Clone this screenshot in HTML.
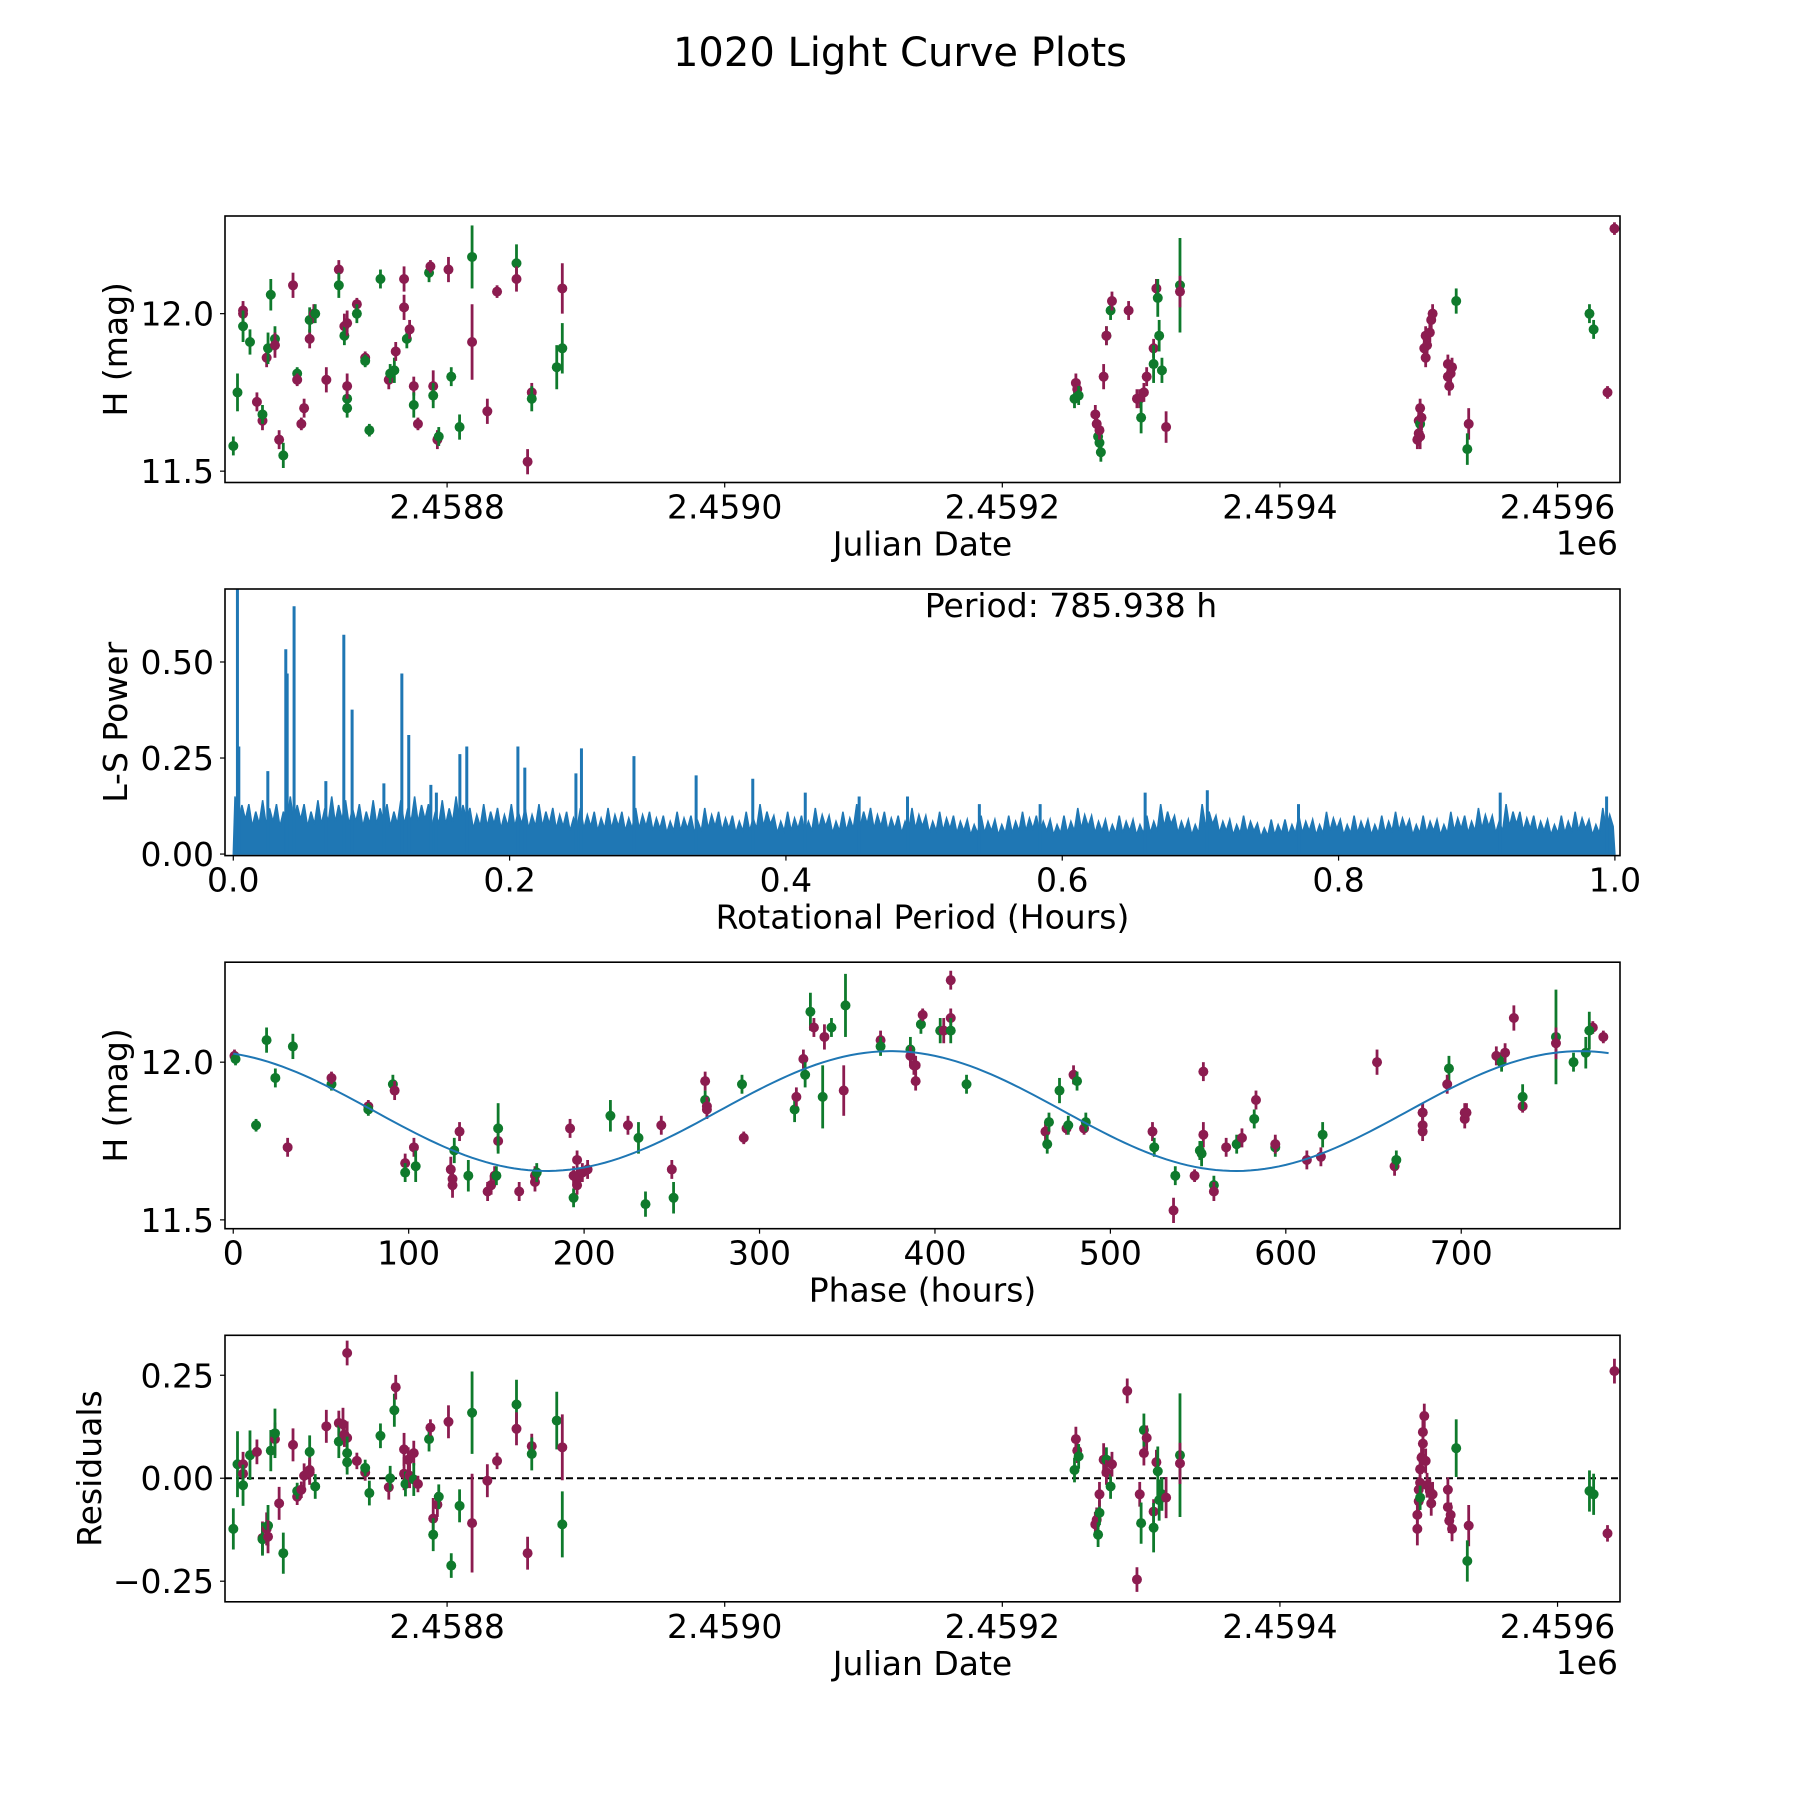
<!DOCTYPE html>
<html><head><meta charset="utf-8"><style>
html,body{margin:0;padding:0;background:#fff}
svg{display:block}
text{font-family:"DejaVu Sans","Liberation Sans",sans-serif;fill:#000}
</style></head><body>
<svg id="fig" width="1800" height="1800" viewBox="0 0 1800 1800" xmlns="http://www.w3.org/2000/svg">
<rect width="1800" height="1800" fill="#fff"/>
<text x="900" y="66" font-size="40" text-anchor="middle">1020 Light Curve Plots</text>
<g id="p1"></g>
<g id="p2"></g>
<g id="p3"></g>
<g id="p4"></g>
</svg>
<script>
const lcData = [
[2458646,11.58,0.03,'g'],[2458649,11.75,0.06,'g'],[2458653,12.01,0.03,'m'],[2458653,12.00,0.03,'m'],[2458653,11.96,0.05,'g'],[2458658,11.91,0.04,'g'],[2458663,11.72,0.03,'m'],[2458667,11.66,0.03,'m'],[2458667,11.68,0.03,'g'],[2458670,11.86,0.03,'m'],[2458671,11.89,0.05,'g'],[2458673,12.06,0.05,'g'],[2458676,11.92,0.04,'g'],[2458676,11.90,0.04,'m'],[2458679,11.60,0.03,'m'],[2458682,11.55,0.04,'g'],[2458689,12.09,0.04,'m'],[2458692,11.81,0.02,'g'],[2458692,11.79,0.02,'m'],[2458695,11.65,0.02,'m'],[2458697,11.70,0.03,'m'],[2458701,11.92,0.03,'m'],[2458701,11.98,0.04,'g'],[2458704,12.00,0.03,'m'],[2458705,12.00,0.03,'g'],[2458713,11.79,0.04,'m'],[2458722,12.14,0.03,'m'],[2458722,12.09,0.04,'g'],[2458726,11.96,0.04,'m'],[2458726,11.93,0.03,'g'],[2458728,11.97,0.04,'m'],[2458728,11.73,0.04,'g'],[2458728,11.70,0.03,'g'],[2458728,11.77,0.04,'m'],[2458735,12.03,0.02,'m'],[2458735,12.00,0.03,'g'],[2458741,11.86,0.02,'m'],[2458741,11.85,0.02,'g'],[2458744,11.63,0.02,'g'],[2458752,12.11,0.03,'g'],[2458758,11.79,0.03,'m'],[2458759,11.81,0.03,'g'],[2458762,11.82,0.04,'g'],[2458763,11.88,0.03,'m'],[2458769,12.02,0.04,'m'],[2458769,12.11,0.04,'m'],[2458771,11.92,0.03,'g'],[2458773,11.95,0.03,'m'],[2458776,11.77,0.03,'m'],[2458776,11.71,0.04,'g'],[2458779,11.65,0.02,'m'],[2458787,12.13,0.03,'g'],[2458788,12.15,0.02,'m'],[2458790,11.77,0.05,'m'],[2458790,11.74,0.04,'g'],[2458793,11.60,0.03,'m'],[2458794,11.61,0.03,'g'],[2458801,12.14,0.04,'m'],[2458803,11.80,0.03,'g'],[2458809,11.64,0.04,'g'],[2458818,11.91,0.12,'m'],[2458818,12.18,0.1,'g'],[2458829,11.69,0.04,'m'],[2458836,12.07,0.02,'m'],[2458850,12.16,0.06,'g'],[2458850,12.11,0.04,'m'],[2458858,11.53,0.04,'m'],[2458861,11.75,0.03,'m'],[2458861,11.73,0.04,'g'],[2458879,11.83,0.07,'g'],[2458883,12.08,0.08,'m'],[2458883,11.89,0.08,'g'],
[2459252,11.73,0.03,'g'],[2459253,11.78,0.03,'m'],[2459254,11.76,0.03,'m'],[2459255,11.74,0.03,'g'],[2459267,11.68,0.03,'m'],[2459268,11.65,0.03,'m'],[2459269,11.61,0.03,'g'],[2459270,11.59,0.03,'g'],[2459270,11.63,0.03,'m'],[2459271,11.56,0.03,'g'],[2459273,11.80,0.04,'m'],[2459275,11.93,0.03,'g'],[2459275,11.93,0.03,'m'],[2459278,12.01,0.03,'g'],[2459279,12.04,0.03,'m'],[2459291,12.01,0.03,'m'],[2459297,11.73,0.03,'m'],[2459299,11.73,0.03,'m'],[2459300,11.67,0.05,'g'],[2459302,11.75,0.03,'m'],[2459304,11.80,0.03,'m'],[2459309,11.89,0.03,'m'],[2459309,11.84,0.06,'g'],[2459311,12.08,0.03,'m'],[2459312,12.05,0.06,'g'],[2459313,11.93,0.05,'g'],[2459315,11.82,0.04,'g'],[2459318,11.64,0.05,'m'],[2459328,12.09,0.15,'g'],[2459328,12.07,0.05,'m'],
[2459499,11.60,0.03,'m'],[2459500,11.62,0.04,'m'],[2459500,11.66,0.04,'m'],[2459501,11.70,0.03,'m'],[2459501,11.65,0.03,'g'],[2459501,11.61,0.04,'m'],[2459502,11.67,0.04,'m'],[2459504,11.89,0.03,'m'],[2459505,11.86,0.03,'m'],[2459505,11.93,0.03,'m'],[2459506,11.90,0.03,'m'],[2459508,11.94,0.03,'m'],[2459509,11.98,0.03,'m'],[2459510,12.00,0.03,'m'],[2459521,11.84,0.03,'m'],[2459521,11.80,0.03,'m'],[2459522,11.77,0.03,'m'],[2459523,11.81,0.03,'m'],[2459524,11.83,0.03,'m'],[2459527,12.04,0.04,'g'],[2459536,11.65,0.05,'m'],[2459535,11.57,0.05,'g'],[2459623,12.00,0.03,'g'],[2459626,11.95,0.03,'g'],[2459636,11.75,0.02,'m'],[2459641,12.27,0.02,'m']
];
const phaseData = [
[0.7,12.02,0.02,'m'],[1.3,12.01,0.02,'g'],[13,11.80,0.02,'g'],[19,12.07,0.04,'g'],[24,11.95,0.03,'g'],[31,11.73,0.03,'m'],[34,12.05,0.04,'g'],[56,11.93,0.02,'g'],[56,11.95,0.02,'m'],[77,11.86,0.02,'m'],[77,11.85,0.02,'g'],[91,11.93,0.03,'g'],[92,11.91,0.03,'m'],[98,11.68,0.03,'m'],[98,11.65,0.03,'g'],[103,11.73,0.03,'m'],[104,11.67,0.05,'g'],[124,11.66,0.04,'m'],[125,11.63,0.04,'m'],[125,11.61,0.04,'m'],[126,11.72,0.04,'g'],[129,11.78,0.03,'m'],[134,11.64,0.05,'g'],[145,11.59,0.03,'m'],[147,11.61,0.03,'m'],[149,11.64,0.03,'m'],[150,11.64,0.03,'g'],[151,11.75,0.03,'m'],[151,11.79,0.08,'g'],[163,11.59,0.03,'m'],[172,11.64,0.03,'m'],[172,11.62,0.03,'m'],[173,11.65,0.03,'g'],[192,11.79,0.03,'m'],[194,11.64,0.03,'m'],[194,11.57,0.03,'g'],[196,11.63,0.03,'m'],[196,11.61,0.03,'m'],[196,11.69,0.03,'m'],[199,11.65,0.03,'m'],[202,11.66,0.03,'m'],[215,11.83,0.05,'g'],[225,11.80,0.03,'m'],[231,11.76,0.05,'g'],[235,11.55,0.04,'g'],[244,11.80,0.03,'m'],[250,11.66,0.03,'m'],[251,11.57,0.05,'g'],[269,11.94,0.03,'m'],[269,11.88,0.03,'g'],[270,11.86,0.03,'m'],[270,11.85,0.03,'m'],[290,11.93,0.03,'g'],[291,11.76,0.02,'m'],[320,11.85,0.04,'g'],[321,11.89,0.03,'m'],[325,12.01,0.03,'m'],[326,11.96,0.04,'g'],[329,12.16,0.06,'g'],[331,12.11,0.03,'m'],[337,12.08,0.04,'m'],[336,11.89,0.1,'g'],[341,12.11,0.03,'g'],[348,11.91,0.08,'m'],[349,12.18,0.1,'g'],[369,12.07,0.03,'m'],[369,12.05,0.03,'g'],[386,12.04,0.04,'g'],[386,12.02,0.03,'m'],[388,11.99,0.03,'m'],[389,11.94,0.03,'m'],[389,11.99,0.03,'m'],[392,12.12,0.03,'g'],[393,12.15,0.02,'m'],[403,12.10,0.04,'g'],[405,12.10,0.04,'m'],[409,12.26,0.03,'m'],[409,12.14,0.03,'m'],[409,12.10,0.04,'g'],[418,11.93,0.03,'g'],[463,11.78,0.03,'m'],[464,11.74,0.03,'g'],[465,11.81,0.03,'g'],[471,11.91,0.04,'g'],[475,11.79,0.02,'m'],[476,11.80,0.03,'g'],[479,11.96,0.03,'m'],[481,11.94,0.03,'g'],[485,11.79,0.02,'m'],[486,11.81,0.03,'g'],[524,11.78,0.03,'m'],[525,11.73,0.03,'g'],[537,11.64,0.03,'g'],[536,11.53,0.04,'m'],[548,11.64,0.02,'m'],[551,11.72,0.03,'g'],[553,11.77,0.04,'m'],[552,11.71,0.04,'g'],[553,11.97,0.03,'m'],[559,11.61,0.03,'g'],[559,11.59,0.03,'m'],[566,11.73,0.03,'m'],[572,11.74,0.03,'g'],[575,11.76,0.03,'m'],[582,11.82,0.03,'g'],[583,11.88,0.03,'m'],[594,11.73,0.03,'g'],[594,11.74,0.03,'m'],[612,11.69,0.03,'m'],[620,11.70,0.03,'m'],[621,11.77,0.04,'g'],[652,12.00,0.04,'m'],[662,11.67,0.03,'m'],[663,11.69,0.03,'g'],[678,11.84,0.03,'m'],[678,11.78,0.03,'m'],[678,11.80,0.03,'m'],[678,11.84,0.03,'m'],[693,11.98,0.04,'g'],[692,11.93,0.03,'m'],[702,11.82,0.03,'m'],[702,11.84,0.03,'m'],[703,11.84,0.03,'m'],[720,12.02,0.03,'m'],[723,12.00,0.03,'g'],[725,12.03,0.03,'m'],[730,12.14,0.04,'m'],[735,11.86,0.02,'m'],[735,11.89,0.04,'g'],[754,12.08,0.15,'g'],[754,12.06,0.05,'m'],[764,12.00,0.03,'g'],[771,12.03,0.05,'g'],[775,12.11,0.02,'m'],[773,12.10,0.06,'g'],[781,12.08,0.02,'m']
];
const residData = [
[2458646,-0.123,0.05,'g'],[2458649,0.034,0.08,'g'],[2458653,0.011,0.03,'m'],[2458653,0.034,0.03,'m'],[2458653,-0.017,0.05,'g'],[2458658,0.056,0.06,'g'],[2458663,0.064,0.03,'m'],[2458667,-0.145,0.04,'m'],[2458667,-0.148,0.04,'g'],[2458670,-0.123,0.04,'m'],[2458671,-0.115,0.05,'g'],[2458671,-0.142,0.04,'m'],[2458673,0.067,0.05,'g'],[2458676,0.095,0.04,'m'],[2458676,0.109,0.06,'g'],[2458679,-0.061,0.04,'m'],[2458682,-0.182,0.05,'g'],[2458689,0.081,0.04,'m'],[2458692,-0.045,0.02,'m'],[2458692,-0.031,0.02,'g'],[2458695,-0.028,0.02,'m'],[2458697,0.006,0.03,'m'],[2458701,0.064,0.04,'g'],[2458701,0.02,0.03,'m'],[2458701,0.014,0.03,'m'],[2458705,-0.02,0.03,'g'],[2458713,0.126,0.04,'m'],[2458722,0.134,0.03,'m'],[2458722,0.089,0.04,'g'],[2458725,0.131,0.04,'m'],[2458726,0.106,0.03,'m'],[2458728,0.098,0.04,'m'],[2458728,0.061,0.04,'g'],[2458728,0.039,0.03,'g'],[2458728,0.304,0.03,'m'],[2458735,0.042,0.02,'m'],[2458741,0.014,0.02,'m'],[2458741,0.025,0.02,'g'],[2458744,-0.036,0.03,'g'],[2458752,0.103,0.03,'g'],[2458758,-0.022,0.03,'m'],[2458759,0,0.03,'g'],[2458762,0.165,0.04,'g'],[2458763,0.221,0.03,'m'],[2458769,0.011,0.04,'m'],[2458769,0.07,0.04,'m'],[2458770,-0.014,0.03,'g'],[2458772,0.045,0.03,'m'],[2458773,0.006,0.03,'m'],[2458776,0.061,0.03,'m'],[2458776,-0.003,0.04,'g'],[2458779,-0.014,0.02,'m'],[2458787,0.095,0.03,'g'],[2458788,0.123,0.02,'m'],[2458790,-0.098,0.05,'m'],[2458790,-0.137,0.04,'g'],[2458793,-0.064,0.03,'m'],[2458794,-0.045,0.03,'g'],[2458801,0.137,0.04,'m'],[2458803,-0.212,0.03,'g'],[2458809,-0.067,0.04,'g'],[2458818,-0.109,0.12,'m'],[2458818,0.159,0.1,'g'],[2458829,-0.006,0.04,'m'],[2458836,0.042,0.02,'m'],[2458850,0.179,0.06,'g'],[2458850,0.12,0.04,'m'],[2458858,-0.182,0.04,'m'],[2458861,0.078,0.03,'m'],[2458861,0.059,0.04,'g'],[2458879,0.14,0.07,'g'],[2458883,0.075,0.08,'m'],[2458883,-0.112,0.08,'g'],
[2459252,0.02,0.03,'g'],[2459253,0.095,0.03,'m'],[2459254,0.067,0.03,'m'],[2459255,0.053,0.03,'g'],[2459267,-0.112,0.03,'m'],[2459268,-0.101,0.03,'m'],[2459269,-0.137,0.03,'g'],[2459270,-0.084,0.03,'g'],[2459270,-0.039,0.03,'m'],[2459273,0.045,0.04,'m'],[2459275,0.045,0.03,'g'],[2459275,0.014,0.03,'m'],[2459278,-0.02,0.03,'g'],[2459279,0.034,0.03,'m'],[2459290,0.212,0.03,'m'],[2459297,-0.246,0.03,'m'],[2459299,-0.039,0.03,'m'],[2459300,-0.109,0.05,'g'],[2459302,0.061,0.03,'m'],[2459302,0.117,0.04,'g'],[2459304,0.098,0.03,'m'],[2459309,-0.081,0.03,'m'],[2459309,-0.12,0.06,'g'],[2459311,0.039,0.03,'m'],[2459312,0.017,0.06,'g'],[2459313,-0.053,0.05,'g'],[2459315,-0.039,0.04,'g'],[2459318,-0.047,0.05,'m'],[2459328,0.056,0.15,'g'],[2459328,0.036,0.05,'m'],
[2459499,-0.089,0.03,'m'],[2459499,-0.123,0.04,'m'],[2459500,-0.056,0.04,'m'],[2459500,-0.028,0.03,'m'],[2459501,-0.011,0.03,'m'],[2459501,-0.047,0.03,'g'],[2459501,0.022,0.04,'m'],[2459502,0.05,0.04,'m'],[2459503,0.084,0.03,'m'],[2459503,0.112,0.05,'m'],[2459504,0.151,0.03,'m'],[2459505,0.042,0.03,'m'],[2459506,-0.017,0.03,'m'],[2459508,-0.031,0.03,'m'],[2459509,-0.061,0.03,'m'],[2459510,-0.039,0.03,'m'],[2459521,-0.028,0.03,'m'],[2459521,-0.07,0.03,'m'],[2459522,-0.103,0.03,'m'],[2459523,-0.089,0.03,'m'],[2459524,-0.123,0.03,'m'],[2459527,0.073,0.07,'g'],[2459536,-0.115,0.05,'m'],[2459535,-0.201,0.05,'g'],[2459623,-0.031,0.05,'g'],[2459626,-0.039,0.05,'g'],[2459636,-0.134,0.02,'m'],[2459641,0.26,0.03,'m']
];
const lsEnvelope = [0.15,0.13,0.14,0.13,0.15,0.13,0.14,0.15,0.14,0.13,0.14,0.13,0.14,0.15,0.13,0.14,0.15,0.12,0.13,0.12,0.13,0.12,0.13,0.12,0.11,0.12,0.11,0.12,0.11,0.12,0.11,0.10,0.11,0.10,0.12,0.11,0.10,0.11,0.13,0.10,0.11,0.10,0.12,0.10,0.11,0.13,0.12,0.11,0.10,0.12,0.10,0.11,0.10,0.09,0.10,0.09,0.10,0.11,0.10,0.09,0.10,0.12,0.10,0.09,0.10,0.09,0.10,0.13,0.10,0.09,0.13,0.10,0.09,0.10,0.08,0.09,0.09,0.10,0.09,0.11,0.09,0.10,0.09,0.10,0.11,0.09,0.10,0.09,0.11,0.10,0.12,0.10,0.13,0.11,0.10,0.09,0.10,0.11,0.09,0.12];
const lsSpikePeriods = [0.003,0.004,0.025,0.038,0.039,0.044,0.067,0.080,0.086,0.109,0.122,0.127,0.143,0.147,0.164,0.169,0.206,0.211,0.248,0.252,0.290,0.335,0.376,0.414,0.453,0.488,0.540,0.584,0.660,0.705,0.771,0.917,0.994];
const lsSpikePowers  = [0.69,0.28,0.216,0.533,0.47,0.645,0.19,0.571,0.376,0.184,0.47,0.31,0.18,0.16,0.26,0.28,0.28,0.225,0.21,0.275,0.255,0.205,0.196,0.16,0.15,0.15,0.13,0.13,0.16,0.166,0.13,0.16,0.15];
const fitMean = 11.845, fitAmp = 0.19, fitPeakPhase = 375, fitPeriod = 785.938;
const jdTicks = [2458800,2459000,2459200,2459400,2459600];
const jdTickLabels = ['2.4588','2.4590','2.4592','2.4594','2.4596'];
const magTicks = [11.5,12.0];
const magTickLabels = ['11.5','12.0'];
const lsXTicks = [0,0.2,0.4,0.6,0.8,1.0];
const lsXTickLabels = ['0.0','0.2','0.4','0.6','0.8','1.0'];
const lsYTicks = [0,0.25,0.5];
const lsYTickLabels = ['0.00','0.25','0.50'];
const phTicks = [0,100,200,300,400,500,600,700];
const phTickLabels = ['0','100','200','300','400','500','600','700'];
const resTicks = [-0.25,0,0.25];
const resTickLabels = ['\u22120.25','0.00','0.25'];

const NS='http://www.w3.org/2000/svg';
const COL={m:'#8c1c50',g:'#0f7a2c'};
const L=225,R=1620;
function mk(tag,parent,attrs){const e=document.createElementNS(NS,tag);for(const k in attrs)e.setAttribute(k,attrs[k]);parent.appendChild(e);return e;}
function lin(d0,d1,r0,r1){return v=>r0+(v-d0)/(d1-d0)*(r1-r0);}
function axes(g,top,bot,xs,ys,xt,xl,yt,yl,xlabel,ylabel,offset,ylabX){
  const f=mk('rect',g,{x:L,y:top,width:R-L,height:bot-top,fill:'none',stroke:'#000','stroke-width':1.6});
  
  
  xt.forEach((v,i)=>{const x=xs(v);
    const t=mk('line',g,{x1:x,x2:x,y1:bot,y2:bot+5,stroke:'#000','stroke-width':1.2});
    
    
    const tx=mk('text',g,{x:x,y:bot+36,'font-size':33,'text-anchor':'middle'});tx.textContent=xl[i];
    
    });
  yt.forEach((v,i)=>{const y=ys(v);
    const t=mk('line',g,{x1:L-5,x2:L,y1:y,y2:y,stroke:'#000','stroke-width':1.2});
    
    
    const tx=mk('text',g,{x:L-11,y:y+12,'font-size':33,'text-anchor':'end'});tx.textContent=yl[i];
    
    });
  const xlab=mk('text',g,{x:(L+R)/2,y:bot+73,'font-size':33,'text-anchor':'middle'});xlab.textContent=xlabel;
  
  
  const cy=(top+bot)/2;
  const ylab=mk('text',g,{x:0,y:0,'font-size':33,'text-anchor':'middle',transform:`translate(${ylabX||127},${cy}) rotate(-90)`});ylab.textContent=ylabel;
  
  
  if(offset){const o=mk('text',g,{x:R-2,y:bot+72,'font-size':33,'text-anchor':'end'});o.textContent=offset;
    
    }
}
function clip(id,top,bot){const d=mk('clipPath',document.getElementById('fig'),{id:id});mk('rect',d,{x:L,y:top,width:R-L,height:bot-top});return `url(#${id})`;}
function points(g,data,xs,ys,cl){
  const pg=mk('g',g,{'clip-path':cl});
  
  
  data.forEach(p=>{const x=xs(p[0]);const c=COL[p[3]];
    const e=mk('line',pg,{x1:x,x2:x,y1:ys(p[1]-p[2]),y2:ys(p[1]+p[2]),stroke:c,'stroke-width':2.8});
    
    
    const d=mk('circle',pg,{cx:x,cy:ys(p[1]),r:5,fill:c});
    
    });
}
// Panel 1
{const g=document.getElementById('p1');const top=216,bot=482.5;
 const xs=lin(2458640,2459645,L,R),ys=lin(11.464,12.31,bot,top);
 points(g,lcData,xs,ys,clip('c1',top,bot));
 axes(g,top,bot,xs,ys,jdTicks,jdTickLabels,magTicks,magTickLabels,'Julian Date','H (mag)','1e6',127);}
// Panel 2
{const g=document.getElementById('p2');const top=589,bot=855.6;
 const xs=lin(-0.006,1.0037,L,R),ys=lin(-0.004,0.69,bot,top);
 const cg=mk('g',g,{'clip-path':clip('c2',top,bot)});
 
 
 let d=`M${xs(0)},${ys(0)}`;const sub=[1,0.55,0.85,0.6];
 lsEnvelope.forEach((v,i)=>{for(let k=0;k<4;k++){d+=` L${xs(i*0.01+(k+0.5)*0.0025)},${ys(v*sub[k])}`;}});
 d+=` L${xs(1)},${ys(0)} Z`;
 const a=mk('path',cg,{d:d,fill:'#1f77b4',stroke:'#1f77b4','stroke-width':1.5});
 
 
 lsSpikePeriods.forEach((p,i)=>{const x=xs(p);
   const s=mk('line',cg,{x1:x,x2:x,y1:ys(0),y2:ys(lsSpikePowers[i]),stroke:'#1f77b4','stroke-width':3});
   
   });
 axes(g,top,bot,xs,ys,lsXTicks,lsXTickLabels,lsYTicks,lsYTickLabels,'Rotational Period (Hours)','L-S Power',null,127);
 const t=mk('text',g,{x:1071,y:617,'font-size':33,'text-anchor':'middle'});t.textContent='Period: 785.938 h';
 
 }
// Panel 3
{const g=document.getElementById('p3');const top=962.2,bot=1228.7;
 const xs=lin(-4.7,790.5,L,R),ys=lin(11.472,12.317,bot,top);
 const cl=clip('c3',top,bot);
 points(g,phaseData,xs,ys,cl);
 let d='';for(let ph=0;ph<=fitPeriod;ph+=4){const m=fitMean+fitAmp*Math.cos(4*Math.PI*(ph-fitPeakPhase)/fitPeriod);d+=(d?' L':'M')+xs(ph)+','+ys(m);}
 const f=mk('path',g,{d:d,fill:'none',stroke:'#1f77b4','stroke-width':2,'clip-path':cl});
 
 
 axes(g,top,bot,xs,ys,phTicks,phTickLabels,magTicks,magTickLabels,'Phase (hours)','H (mag)',null,127);}
// Panel 4
{const g=document.getElementById('p4');const top=1335.3,bot=1601.8;
 const xs=lin(2458640,2459645,L,R),ys=lin(-0.300,0.347,bot,top);
 const z=mk('line',g,{x1:L,x2:R,y1:ys(0),y2:ys(0),stroke:'#000','stroke-width':2,'stroke-dasharray':'7,4'});
 
 
 points(g,residData,xs,ys,clip('c4',top,bot));
 axes(g,top,bot,xs,ys,jdTicks,jdTickLabels,resTicks,resTickLabels,'Julian Date','Residuals','1e6',101);}
</script>
</body></html>
